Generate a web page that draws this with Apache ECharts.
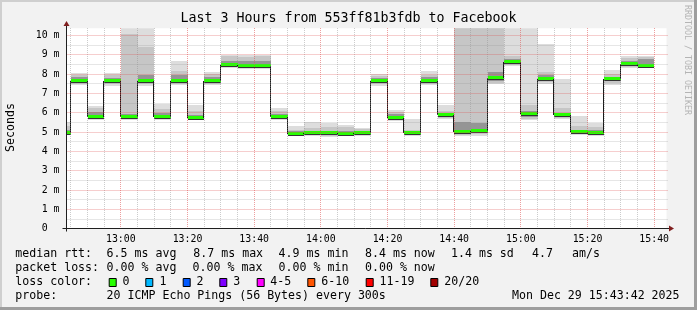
<!DOCTYPE html>
<html><head><meta charset="utf-8">
<script src="https://cdn.jsdelivr.net/npm/echarts@6/dist/echarts.min.js"></script>
<style>html,body{margin:0;padding:0;background:#f2f2f2}#c{width:697px;height:310px}</style>
</head><body><div id="c"></div><script>
// ---- data ----
const windowStart = '12:43:42';
const windowEnd = '15:43:42';
const boundaries = ['12:43:42','12:45','12:50','12:55','13:00','13:05','13:10','13:15','13:20','13:25','13:30','13:35','13:40','13:45','13:50','13:55','14:00','14:05','14:10','14:15','14:20','14:25','14:30','14:35','14:40','14:45','14:50','14:55','15:00','15:05','15:10','15:15','15:20','15:25','15:30','15:35','15:40'];
const medianRtt = [4.97,7.62,5.79,7.65,5.79,7.65,5.79,7.65,5.75,7.65,8.48,8.43,8.43,5.79,4.92,4.95,4.95,4.92,4.95,7.62,5.74,4.95,7.65,5.86,5.00,5.03,7.79,8.65,5.93,7.77,5.86,4.99,4.97,7.76,8.50,8.43];
const pingMax = [5.54,8.05,6.37,8.05,12,12,6.46,8.69,6.41,8.10,9.00,8.98,8.98,6.27,5.34,5.51,5.45,5.38,5.23,8.00,6.15,5.68,8.17,6.41,12,12,12,12,12,9.57,7.76,5.85,5.49,8.22,8.95,8.95];
const pingHi2 = [5.30,7.93,6.25,7.95,10.07,9.38,6.20,8.17,6.10,7.98,8.92,8.90,8.93,6.10,5.12,5.20,5.24,5.28,5.16,7.88,6.03,5.12,7.96,6.10,12,12,12,8.96,6.41,8.13,6.25,5.30,5.25,7.98,8.82,8.88];
const pingHi3 = [5.10,7.84,6.05,7.82,5.95,7.96,6.00,7.96,5.90,7.85,8.70,8.70,8.70,5.95,5.03,5.07,5.07,5.05,5.05,7.80,5.92,5.03,7.84,5.98,5.54,5.45,8.13,8.80,6.10,7.95,6.00,5.10,5.10,7.85,8.68,8.78];
const pingLo3 = [4.92,7.56,5.72,7.55,5.72,7.55,5.72,7.56,5.70,7.56,8.42,8.36,8.36,5.72,4.87,4.89,4.88,4.87,4.90,7.54,5.68,4.89,7.56,5.77,4.93,4.95,7.65,8.55,5.80,7.66,5.78,4.93,4.90,7.62,8.42,8.37];
const pingLo2 = [4.88,7.50,5.66,7.48,5.66,7.48,5.66,7.50,5.65,7.50,8.38,8.31,8.31,5.66,4.83,4.84,4.82,4.83,4.85,7.47,5.63,4.84,7.50,5.72,4.87,4.88,7.55,8.47,5.70,7.57,5.72,4.88,4.84,7.52,8.36,8.34];
const pingMin = [4.85,7.45,5.60,7.40,5.60,7.40,5.60,7.45,5.60,7.45,8.34,8.27,8.27,5.60,4.80,4.80,4.77,4.80,4.82,7.40,5.58,4.80,7.45,5.67,4.82,4.82,7.48,8.40,5.63,7.50,5.67,4.85,4.80,7.45,8.31,8.31];
const xTickLabels = ['13:00','13:20','13:40','14:00','14:20','14:40','15:00','15:20','15:40'];
const yTickValues = [0,1,2,3,4,5,6,7,8,9,10];
const yTickLabels = ['0  ','1 m','2 m','3 m','4 m','5 m','6 m','7 m','8 m','9 m','10 m'];
const yMax = 10.37;
const lossLabels = ['0','1','2','3','4-5','6-10','11-19','20/20'];
const lossColors = ['#26ff00','#00b8ff','#0059ff','#7e00ff','#ff00ff','#ff5500','#ff0000','#a10000'];

// ---- helpers ----
function toMin(s){const p=s.split(':').map(Number);return p[0]*60+p[1]+(p[2]||0)/60;}
function fmt(m){const h=Math.floor(m/60),mm=Math.round(m-h*60);return String(h).padStart(2,'0')+':'+String(mm).padStart(2,'0');}
const xMin = toMin(windowStart), xMax = toMin(windowEnd);
const rows = medianRtt.map((m,i)=>[toMin(boundaries[i]),toMin(boundaries[i+1]),pingMax[i],pingHi2[i],pingHi3[i],m,pingLo3[i],pingLo2[i],pingMin[i],i>0?medianRtt[i-1]:m]);

const FONT='"DejaVu Sans Mono"';
// grid rows: [orientation (0 vertical / 1 horizontal / 2 axes), value, major]
const gridRows=[];
for(let t=toMin('12:45');t<=toMin('15:40')+0.01;t+=5){ gridRows.push([0,t,xTickLabels.includes(fmt(t))?1:0]); }
for(let v=0.5;v<=10.01;v+=0.5){ gridRows.push([1,v,Math.abs(v-Math.round(v))<1e-6?1:0]); }
gridRows.push([2,0,0]);

const chart = echarts.init(document.getElementById('c'),null,{renderer:'canvas'});
function txt(id,text,x,y,opts){
  opts=opts||{};
  return {type:'text',id,silent:true,z:100,x,y,rotation:opts.rotation||0,style:{text,fill:opts.fill||'#000',font:(opts.size||11.6)+'px '+FONT,align:opts.align||'left',textAlign:opts.align||'left',verticalAlign:'middle',textVerticalAlign:'middle'}};
}
const graphics=[
  {type:'rect',id:'fT',silent:true,z:0,shape:{x:0,y:0,width:697,height:2},style:{fill:'#cfcfcf'}},
  {type:'rect',id:'fL',silent:true,z:0,shape:{x:0,y:0,width:2,height:310},style:{fill:'#cfcfcf'}},
  {type:'rect',id:'fB',silent:true,z:0,shape:{x:0,y:307,width:697,height:3},style:{fill:'#9e9e9e'}},
  {type:'rect',id:'fR',silent:true,z:0,shape:{x:694,y:0,width:3,height:310},style:{fill:'#9e9e9e'}},
  txt('title','Last 3 Hours from 553ff81b3fdb to Facebook',348.5,18.5,{size:13.3,align:'center'}),
  txt('ylab','Seconds',10.5,127.5,{size:11.6,align:'center',rotation:Math.PI/2}),
  txt('wm','RRDTOOL / TOBI OETIKER',687.5,60,{size:8.3,align:'center',rotation:-Math.PI/2,fill:'#b4b4b4'}),
  txt('l1a','median rtt:',15.3,254.2), txt('l1b','6.5 ms avg',106.6,254.2), txt('l1c','8.7 ms max',193.3,254.2),
  txt('l1d','4.9 ms min',278.6,254.2), txt('l1e','8.4 ms now',365,254.2), txt('l1f','1.4 ms sd',451,254.2),
  txt('l1g','4.7',532,254.2), txt('l1h','am/s',572,254.2),
  txt('l2a','packet loss:',15.3,268), txt('l2b','0.00 % avg',106.6,268), txt('l2c','0.00 % max',192.6,268),
  txt('l2d','0.00 % min',278.6,268), txt('l2e','0.00 % now',365,268),
  txt('l3a','loss color:',15.3,281.8),
  txt('l4a','probe:',15.3,295.5), txt('l4b','20 ICMP Echo Pings (56 Bytes) every 300s',106.6,295.5),
  txt('l4c','Mon Dec 29 15:43:42 2025',512,295.5)
];
const boxX=[108.7,145.3,182.7,219.3,256.7,307.3,365.7,430.3];
const labX=[122.6,159.6,196.6,233.3,270.3,321.3,379.6,444.3];
lossLabels.forEach((l,i)=>{
  graphics.push({type:'rect',id:'bx'+i,silent:true,z:100,shape:{x:boxX[i]+0.5,y:278.5,width:7,height:8},style:{fill:lossColors[i],stroke:'#000',lineWidth:1}});
  graphics.push(txt('bl'+i,l,labX[i],281.8));
});

const option={
  animation:false,
  backgroundColor:'#f2f2f2',
  grid:{left:66.5,right:30.5,top:28.3,bottom:81.3,show:true,backgroundColor:'#ffffff',borderWidth:0},
  xAxis:{type:'value',min:xMin,max:xMax,
    axisLine:{show:false},axisTick:{show:false},splitLine:{show:false},
    axisLabel:{customValues:xTickLabels.map(toMin),formatter:v=>fmt(v),fontFamily:FONT,fontSize:9.9,color:'#000',margin:6}},
  yAxis:{type:'value',min:0,max:yMax,interval:1,
    axisLine:{show:false},axisTick:{show:false},splitLine:{show:false},
    axisLabel:{customValues:yTickValues,formatter:v=>{const k=yTickValues.indexOf(Math.round(v));return (Math.abs(v-Math.round(v))<1e-6&&k>=0)?yTickLabels[k]:'';},fontFamily:FONT,fontSize:9.9,color:'#000',margin:7}},
  graphic:graphics,
  series:[
    {type:'custom',z:2,clip:true,data:rows,encode:{x:[0,1],y:[2,3,4,5,6,7,8]},
     renderItem:(params,api)=>{
       const t0=api.value(0),t1=api.value(1);
       const ch=[];
       const band=(lo,hi,color)=>{
         const a=api.coord([t0,hi]),b=api.coord([t1,lo]);
         const x0=Math.round(a[0]),x1=Math.round(b[0]),y0=Math.round(a[1]),y1=Math.round(b[1]);
         ch.push({type:'rect',shape:{x:x0,y:y0,width:x1-x0,height:Math.max(1,y1-y0)},style:{fill:color}});
       };
       band(api.value(8),api.value(2),'#dddddd');
       band(api.value(7),api.value(3),'#c6c6c6');
       band(api.value(6),api.value(4),'#959595');
       const med=api.value(5),prev=api.value(9);
       const m0=api.coord([t0,med]),m1=api.coord([t1,med]),p=api.coord([t0,prev]);
       const xa=Math.round(m0[0])+0.5,xb=Math.round(m1[0]);
       const ym=Math.round(m0[1]);
       if(params.dataIndex>0){
         ch.push({type:'line',shape:{x1:xa-1,y1:Math.round(p[1]),x2:xa-1,y2:ym},style:{stroke:'#1a1a1a',lineWidth:1}});
       }
       ch.push({type:'rect',shape:{x:Math.round(m0[0]),y:ym+1,width:xb-Math.round(m0[0]),height:1},style:{fill:'#333333'}});
       ch.push({type:'rect',shape:{x:Math.round(m0[0]),y:ym-2,width:xb-Math.round(m0[0]),height:3},style:{fill:'#26ff00'}});
       return {type:'group',children:ch};
     }},
    {type:'custom',z:5,clip:false,silent:true,data:gridRows,encode:{x:1},
     renderItem:(params,api)=>{
       const cs=params.coordSys;
       const o=api.value(0),v=api.value(1),major=api.value(2);
       const color=major?'rgba(222,79,79,0.55)':'rgba(143,143,143,0.45)';
       const bottom=Math.floor(cs.y+cs.height)+0.5, left=Math.floor(cs.x)+0.5;
       if(o===0){
         const x=Math.floor(api.coord([v,0])[0])+0.5;
         return {type:'line',shape:{x1:x,y1:Math.round(cs.y),x2:x,y2:bottom-0.5},style:{stroke:color,lineWidth:1,lineDash:[1,1]}};
       }
       if(o===1){
         const y=Math.floor(api.coord([xMin,v])[1])+0.5;
         return {type:'line',shape:{x1:left+1,y1:y,x2:Math.round(cs.x+cs.width)+1,y2:y},style:{stroke:color,lineWidth:1,lineDash:[1,1]}};
       }
       return {type:'group',children:[
         {type:'line',shape:{x1:left-4,y1:bottom,x2:Math.round(cs.x+cs.width)+2,y2:bottom},style:{stroke:'#1f1f1f',lineWidth:1}},
         {type:'line',shape:{x1:left,y1:Math.round(cs.y)-2,x2:left,y2:bottom+3},style:{stroke:'#1f1f1f',lineWidth:1}}
       ]};
     }}
  ]
};
chart.setOption(option);
const pr=chart.convertToPixel({gridIndex:0},[xMax,0]);
const pt=chart.convertToPixel({gridIndex:0},[xMin,yMax]);
const rx=Math.round(pr[0])+2,ry=Math.floor(pr[1])+0.5,tx=Math.floor(pt[0])+0.5,ty=Math.round(pt[1])-2;
chart.setOption({graphic:[
  {type:'polygon',id:'arR',silent:true,z:100,shape:{points:[[rx,ry-3],[rx+5,ry],[rx,ry+3]]},style:{fill:'#801f1f'}},
  {type:'polygon',id:'arT',silent:true,z:100,shape:{points:[[tx-3,ty],[tx,ty-5],[tx+3,ty]]},style:{fill:'#801f1f'}}
]});
</script></body></html>
